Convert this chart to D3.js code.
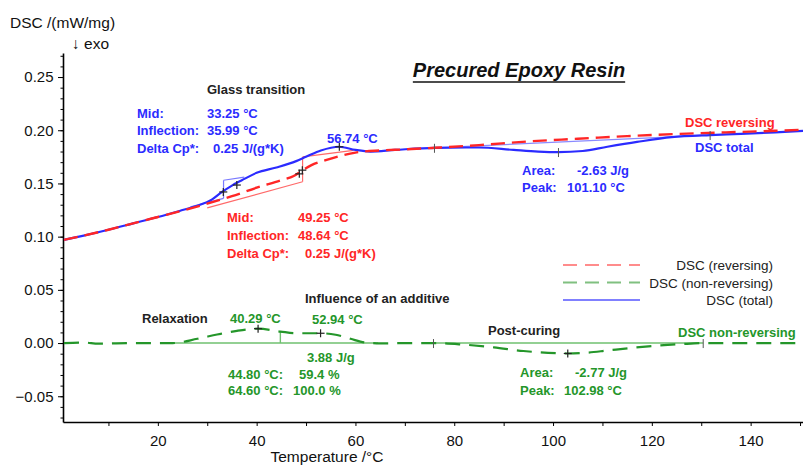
<!DOCTYPE html>
<html>
<head>
<meta charset="utf-8">
<script src="https://cdn.jsdelivr.net/npm/d3@7"></script>
<style>
  body { margin: 0; background: #fff; }
  svg { display: block; font-family: Arial, "Liberation Sans", sans-serif; }
</style>
</head>
<body>
<svg id="root" width="803" height="465"></svg>
<script>
// --- data ---
const tempTotal = [1, 5, 10, 15, 20, 25, 28, 31, 33, 35, 37, 40, 44, 48, 50, 53, 56.7, 60, 63, 68, 76, 85, 92, 97, 101.1, 106, 111, 117, 124, 131.8, 138, 145, 150.6];
const dscTotal  = [0.097, 0.101, 0.1065, 0.1125, 0.1185, 0.125, 0.129, 0.135, 0.142, 0.148, 0.153, 0.160, 0.165, 0.171, 0.175, 0.181, 0.1845, 0.1815, 0.180, 0.1815, 0.1835, 0.1838, 0.1815, 0.180, 0.1795, 0.1805, 0.1845, 0.189, 0.1935, 0.1955, 0.1965, 0.198, 0.1995];

const tempRev = [1, 5, 10, 15, 20, 25, 30, 35, 40, 45, 47.5, 49.3, 51, 54, 57, 60, 65, 70, 76, 85, 95, 105, 115, 125, 135, 145, 150.6];
const dscRev  = [0.097, 0.101, 0.1065, 0.1125, 0.1185, 0.1245, 0.131, 0.138, 0.146, 0.153, 0.157, 0.1625, 0.167, 0.172, 0.176, 0.179, 0.181, 0.182, 0.1835, 0.186, 0.1895, 0.192, 0.1945, 0.1965, 0.198, 0.1995, 0.2005];

const tempNonRev = [1, 5, 8, 15, 23, 28, 32, 36, 40.3, 44.8, 48, 52.9, 56, 59, 62, 65, 70, 76, 82, 88, 94, 99, 103, 107, 111, 116, 121, 126, 131, 140, 150.6];
const dscNonRev  = [0, 0.0005, -0.0005, 0, 0, 0.004, 0.008, 0.0115, 0.0135, 0.0108, 0.0092, 0.0092, 0.0078, 0.004, 0.0005, -0.0003, 0, 0, -0.0015, -0.004, -0.0075, -0.0092, -0.0098, -0.009, -0.007, -0.0045, -0.0025, -0.001, 0, 0, 0];

// evaluation construction lines [t1, v1, t2, v2]
const blueGlassLines = [[26.6, 0.128, 33.3, 0.136], [33.3, 0.136, 33.3, 0.153], [33.3, 0.153, 37.5, 0.156]];
const redGlassLines  = [[30, 0.127, 49.3, 0.1516], [49.3, 0.1516, 49.3, 0.175], [49.3, 0.175, 59.6, 0.181]];
const blueAreaBase   = [[76, 0.1835, 131.8, 0.1955]];
const greenBases     = [[23, 0, 64.6, 0], [44.8, 0, 44.8, 0.0108], [75.8, 0, 130.4, 0]];

// peak / step markers
const crossPts = [[33.25, 0.142], [35.99, 0.1485], [56.74, 0.1845], [49.25, 0.1625], [48.64, 0.159], [40.29, 0.0135], [52.94, 0.0092], [102.98, -0.0098]];
const limitPts = [[76, 0.1835], [101.1, 0.1795], [131.8, 0.1955], [75.8, 0], [130.4, 0]];

const xTicks = [10, 20, 30, 40, 50, 60, 70, 80, 90, 100, 110, 120, 130, 140, 150];
const xLabels = [20, 40, 60, 80, 100, 120, 140];
const yTicks = [-0.05, 0, 0.05, 0.10, 0.15, 0.20, 0.25];

const legendNames = ["DSC (reversing)", "DSC (non-reversing)", "DSC (total)"];

const BLUE = "#2b2bff", RED = "#ff2626", GREEN = "#24962a";

// --- scales ---
const svg = d3.select("#root");
const x = d3.scaleLinear().domain([0.8, 150.6]).range([63, 803]);
const y = d3.scaleLinear().domain([-0.0742, 0.2726]).range([422, 53]);

// --- axes ---
let xAxis = svg.append("g")
  .attr("transform", "translate(0,422)")
  .call(d3.axisBottom(x).tickValues(xTicks).tickSizeInner(4).tickSizeOuter(0)
    .tickFormat(d => xLabels.includes(d) ? d : ""));
xAxis.select(".domain").attr("stroke-width", 1.6);
xAxis.selectAll("text").attr("font-size", 15).attr("dy", "1.15em").attr("fill", "#111");

let yAxis = svg.append("g")
  .attr("transform", "translate(63,0)")
  .call(d3.axisLeft(y).tickValues(d3.range(-0.07, 0.271, 0.01)).tickSizeInner(2.5).tickSizeOuter(0).tickFormat(""));
yAxis.select(".domain").attr("stroke-width", 1.6);

let yMajor = svg.append("g")
  .attr("transform", "translate(63,0)")
  .call(d3.axisLeft(y).tickValues(yTicks).tickSizeInner(5).tickSizeOuter(0).tickFormat(d3.format(".2f")));
yMajor.select(".domain").remove();
yMajor.selectAll("text").attr("font-size", 15).attr("fill", "#111").attr("dx", "-0.1em");

svg.append("text").attr("x", 10).attr("y", 28).attr("font-size", 15.5).attr("fill", "#111").text("DSC /(mW/mg)");
svg.append("text").attr("x", 72).attr("y", 49).attr("font-size", 15.5).attr("fill", "#111").text("\u2193 exo");
svg.append("text").attr("x", 327).attr("y", 462).attr("font-size", 15.5).attr("fill", "#111")
  .attr("text-anchor", "middle").text("Temperature /\u00B0C");

// title
let title = svg.append("text").attr("x", 519).attr("y", 77).attr("text-anchor", "middle")
  .attr("font-size", 20).attr("font-weight", "bold").attr("font-style", "italic").attr("fill", "#111")
  .text("Precured Epoxy Resin");
let tw = title.node().getComputedTextLength();
svg.append("line").attr("x1", 519 - tw / 2).attr("x2", 519 + tw / 2).attr("y1", 82).attr("y2", 82)
  .attr("stroke", "#111").attr("stroke-width", 1.6);

// --- construction lines ---
function segs(list, color, w) {
  svg.append("g").selectAll("line").data(list).enter().append("line")
    .attr("x1", d => x(d[0])).attr("y1", d => y(d[1]))
    .attr("x2", d => x(d[2])).attr("y2", d => y(d[3]))
    .attr("stroke", color).attr("stroke-width", w);
}
segs(blueGlassLines, "#7a7aff", 1.2);
segs(redGlassLines, "#ff6a6a", 1.2);
segs(blueAreaBase, "#8a8aff", 1.2);
segs(greenBases, "#6fc06f", 1.4);

// --- curves ---
const line = d3.line().x(d => x(d[0])).y(d => y(d[1])).curve(d3.curveMonotoneX);

svg.append("path").datum(d3.zip(tempTotal, dscTotal)).attr("d", line)
  .attr("fill", "none").attr("stroke", BLUE).attr("stroke-width", 2.2);
svg.append("path").datum(d3.zip(tempRev, dscRev)).attr("d", line)
  .attr("fill", "none").attr("stroke", RED).attr("stroke-width", 2.4).attr("stroke-dasharray", "14,7");
svg.append("path").datum(d3.zip(tempNonRev, dscNonRev)).attr("d", line)
  .attr("fill", "none").attr("stroke", GREEN).attr("stroke-width", 2.2).attr("stroke-dasharray", "15,9");

// markers
let cross = svg.append("g").attr("stroke", "#222").attr("stroke-width", 1.2);
crossPts.forEach(p => {
  cross.append("line").attr("x1", x(p[0]) - 4).attr("x2", x(p[0]) + 4).attr("y1", y(p[1])).attr("y2", y(p[1]));
  cross.append("line").attr("x1", x(p[0])).attr("x2", x(p[0])).attr("y1", y(p[1]) - 4).attr("y2", y(p[1]) + 4);
});
limitPts.forEach(p => {
  cross.append("line").attr("x1", x(p[0])).attr("x2", x(p[0])).attr("y1", y(p[1]) - 4).attr("y2", y(p[1]) + 5)
    .attr("stroke", "#555").attr("stroke-width", 1);
});

// --- annotation text ---
function label(px, py, str, color, opts) {
  opts = opts || {};
  svg.append("text").attr("x", px).attr("y", py)
    .attr("font-size", opts.size || 13).attr("font-weight", opts.weight || "bold")
    .attr("text-anchor", opts.anchor || "start").attr("fill", color).text(str);
}
label(207, 94, "Glass transition", "#222");
label(137, 118, "Mid:", BLUE);           label(207, 118, "33.25 \u00B0C", BLUE);
label(137, 135, "Inflection:", BLUE);    label(207, 135, "35.99 \u00B0C", BLUE);
label(137, 153, "Delta Cp*:", BLUE);     label(213, 153, "0.25 J/(g*K)", BLUE);
label(327, 143, "56.74 \u00B0C", BLUE);

label(227, 222, "Mid:", RED);            label(298, 222, "49.25 \u00B0C", RED);
label(227, 240, "Inflection:", RED);     label(298, 240, "48.64 \u00B0C", RED);
label(227, 258, "Delta Cp*:", RED);      label(305, 258, "0.25 J/(g*K)", RED);

label(685, 127, "DSC reversing", RED);
label(695, 152, "DSC total", BLUE);
label(522, 175, "Area:", BLUE);          label(577, 175, "-2.63 J/g", BLUE);
label(522, 192, "Peak:", BLUE);          label(567, 192, "101.10 \u00B0C", BLUE);

label(305, 303, "Influence of an additive", "#222");
label(142, 323, "Relaxation", "#222");
label(230, 323, "40.29 \u00B0C", GREEN);
label(312, 324, "52.94 \u00B0C", GREEN);
label(307, 362, "3.88 J/g", GREEN);
label(228, 379, "44.80 \u00B0C:", GREEN); label(299, 379, "59.4 %", GREEN);
label(228, 395, "64.60 \u00B0C:", GREEN); label(293, 395, "100.0 %", GREEN);

label(488, 335, "Post-curing", "#222");
label(678, 337, "DSC non-reversing", GREEN);
label(520, 377, "Area:", GREEN);         label(575, 377, "-2.77 J/g", GREEN);
label(520, 395, "Peak:", GREEN);         label(564, 395, "102.98 \u00B0C", GREEN);

// --- legend ---
const legendStyles = [
  { color: "#ff8c8c", dash: "14,8" },
  { color: "#80c080", dash: "14,8" },
  { color: "#8080ff", dash: null }
];
let leg = svg.append("g").selectAll("g").data(legendNames).enter().append("g")
  .attr("transform", (d, i) => `translate(0,${265 + i * 17.5})`);
leg.append("line").attr("x1", 563).attr("x2", 640).attr("y1", 0).attr("y2", 0)
  .attr("stroke", (d, i) => legendStyles[i].color).attr("stroke-width", 2)
  .attr("stroke-dasharray", (d, i) => legendStyles[i].dash);
leg.append("text").attr("x", 773).attr("y", 5).attr("text-anchor", "end")
  .attr("font-size", 13.5).attr("fill", "#222").text(d => d);
</script>
</body>
</html>
